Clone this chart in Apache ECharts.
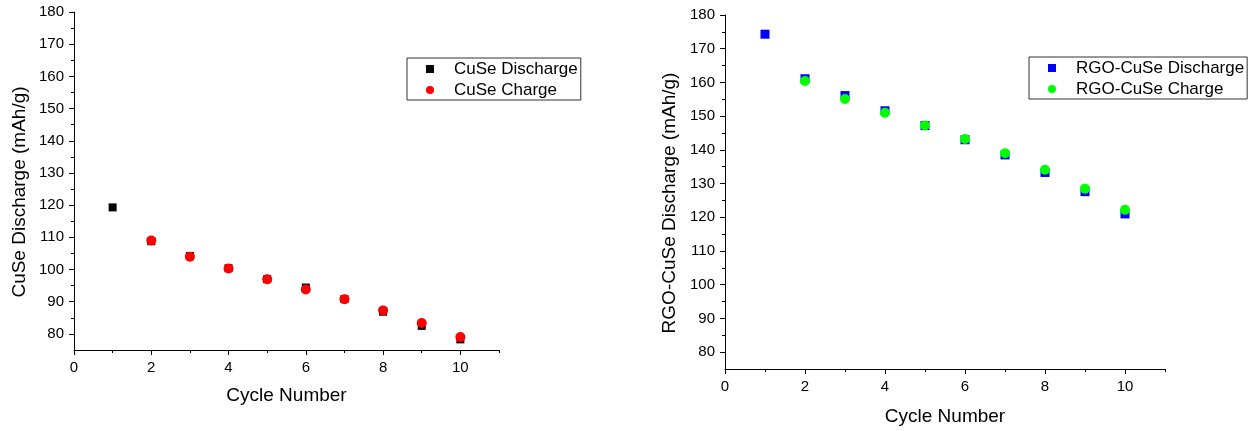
<!DOCTYPE html>
<html>
<head>
<meta charset="utf-8">
<script src="https://cdn.jsdelivr.net/npm/echarts@6/dist/echarts.min.js"></script>
<style>
html,body{margin:0;padding:0;background:#fff;}
#chart{width:1259px;height:431px;}
</style>
</head>
<body>
<div id="chart"></div>
<script>
// ---- data ----
const cycles = [1, 2, 3, 4, 5, 6, 7, 8, 9, 10];
const cuseDischarge = [119.3, 108.8, 104.2, 100.4, 97.0, 94.4, 90.8, 86.9, 82.5, 78.3];
const cuseCharge = [null, 109.0, 104.0, 100.3, 97.0, 93.8, 90.8, 87.3, 83.4, 79.0];
const rgoDischarge = [174.3, 161.1, 156.1, 151.6, 147.2, 143.0, 138.5, 133.3, 127.6, 121.0];
const rgoCharge = [null, 160.4, 155.1, 151.0, 147.2, 143.2, 139.0, 134.1, 128.5, 122.2];
const xMajorTicks = [0, 2, 4, 6, 8, 10];
const xMinorTicks = [1, 3, 5, 7, 9, 11];
const yMajorTicks = [80, 90, 100, 110, 120, 130, 140, 150, 160, 170, 180];
const yMinorTicks = [85, 95, 105, 115, 125, 135, 145, 155, 165, 175];
const xLabel = 'Cycle Number';
const yLabelLeft = 'CuSe Discharge (mAh/g)';
const yLabelRight = 'RGO-CuSe Discharge (mAh/g)';
const names = ['CuSe Discharge', 'CuSe Charge', 'RGO-CuSe Discharge', 'RGO-CuSe Charge'];

const FONT = 'Liberation Sans, Arial, sans-serif';
function pairs(vals) {
  const out = [];
  cycles.forEach((c, i) => { if (vals[i] !== null) out.push([c, vals[i]]); });
  return out;
}
const lineStyle = { color: '#000', width: 1 };

function xAxes(grid, nameGap) {
  return [
    {
      type: 'value', gridIndex: grid, min: 0, max: 11, position: 'bottom',
      name: xLabel, nameLocation: 'middle', nameGap: nameGap,
      nameTextStyle: { fontFamily: FONT, fontSize: 19, color: '#000' },
      axisLine: { show: true, onZero: false, lineStyle },
      axisTick: { show: true, length: 5, customValues: xMajorTicks, lineStyle },
      axisLabel: { customValues: xMajorTicks, fontFamily: FONT, fontSize: 15, color: '#000', margin: 10 },
      splitLine: { show: false }
    },
    {
      type: 'value', gridIndex: grid, min: 0, max: 11, position: 'bottom',
      axisLine: { show: false, onZero: false },
      axisTick: { show: true, length: 3, customValues: xMinorTicks, lineStyle },
      axisLabel: { show: false },
      splitLine: { show: false }
    }
  ];
}
function yAxes(grid, name, nameGap) {
  return [
    {
      type: 'value', gridIndex: grid, min: 75, max: 180, position: 'left',
      name: name, nameLocation: 'middle', nameGap: nameGap,
      nameTextStyle: { fontFamily: FONT, fontSize: 19, color: '#000', padding: [0, 22, 0, 0] },
      axisLine: { show: true, onZero: false, lineStyle },
      axisTick: { show: true, length: 5, customValues: yMajorTicks, lineStyle },
      axisLabel: { customValues: yMajorTicks, fontFamily: FONT, fontSize: 15, color: '#000', margin: 10 },
      splitLine: { show: false }
    },
    {
      type: 'value', gridIndex: grid, min: 75, max: 180, position: 'left',
      axisLine: { show: false, onZero: false },
      axisTick: { show: true, length: 3, customValues: yMinorTicks, lineStyle },
      axisLabel: { show: false },
      splitLine: { show: false }
    }
  ];
}
function legend(left, top, data) {
  return {
    left: left, top: top, orient: 'vertical',
    data: data,
    itemWidth: 8, itemHeight: 8, itemGap: 3,
    padding: [2, 3, 1, 19],
    borderColor: '#333', borderWidth: 1, backgroundColor: '#fff',
    textStyle: { fontFamily: FONT, fontSize: 17, color: '#000', lineHeight: 18, padding: [0, 0, 0, 15] },
    selectedMode: false
  };
}

const chart = echarts.init(document.getElementById('chart'), null, { renderer: 'canvas' });
chart.setOption({
  animation: false,
  backgroundColor: '#fff',
  grid: [
    { left: 74, top: 12, width: 425, height: 338 },
    { left: 725, top: 15, width: 440, height: 356 }
  ],
  xAxis: xAxes(0, 36).concat(xAxes(1, 38)),
  yAxis: yAxes(0, yLabelLeft, 45).concat(yAxes(1, yLabelRight, 46)),
  legend: [
    legend(407, 58, [{ name: names[0], icon: 'rect' }, { name: names[1], icon: 'circle' }]),
    legend(1029, 57, [{ name: names[2], icon: 'rect' }, { name: names[3], icon: 'circle' }])
  ],
  series: [
    { name: names[0], type: 'scatter', xAxisIndex: 0, yAxisIndex: 0, symbol: 'rect', symbolSize: 8,
      itemStyle: { color: '#000000', opacity: 1 }, data: pairs(cuseDischarge) },
    { name: names[1], type: 'scatter', xAxisIndex: 0, yAxisIndex: 0, symbol: 'circle', symbolSize: 10,
      itemStyle: { color: '#ff0000', opacity: 1 }, data: pairs(cuseCharge) },
    { name: names[2], type: 'scatter', xAxisIndex: 2, yAxisIndex: 2, symbol: 'rect', symbolSize: 9,
      itemStyle: { color: '#0000ff', opacity: 1 }, data: pairs(rgoDischarge) },
    { name: names[3], type: 'scatter', xAxisIndex: 2, yAxisIndex: 2, symbol: 'circle', symbolSize: 10,
      itemStyle: { color: '#00ff00', opacity: 1 }, data: pairs(rgoCharge) }
  ]
});
</script>
</body>
</html>
